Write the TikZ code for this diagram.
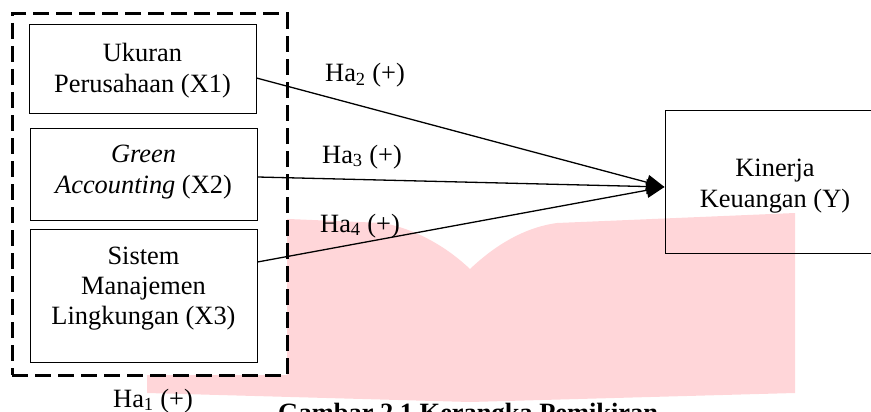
\documentclass[tikz,border=0pt]{standalone}
\usepackage{fontspec}
\setmainfont{Liberation Serif}
\usetikzlibrary{arrows.meta}
\definecolor{wmpink}{RGB}{255,214,217}
\begin{document}
\begin{tikzpicture}[x=1pt,y=-1pt,
  box/.style={draw=black, line width=1pt, inner sep=0pt},
  grpbox/.style={draw=black, fill=white, line width=3pt, dash pattern=on 16pt off 7pt, inner sep=0pt},
  txt/.style={font=\fontsize{26.4}{31}\selectfont, align=center, inner sep=0pt},
  lbl/.style={font=\fontsize{26.4}{31}\selectfont, inner sep=0pt, anchor=base west},
  link/.style={line width=1.3pt, -{Triangle[length=18pt,width=15pt]}},
]
\useasboundingbox (0,0) rectangle (871,412);
\clip (0,0) rectangle (871,412);
% watermark
\fill[wmpink] (147,213) -- (383,223) .. controls (420,230) and (450,250) .. (470,269)
  .. controls (490,250) and (520,228) .. (557,223) -- (795,213) -- (795,393)
  -- (470,402) -- (147,393) -- cycle;
% group
\node[grpbox, minimum width=275pt, minimum height=361pt] (grp) at (149.5,194.5) {};
% boxes
\node[box, minimum width=227pt, minimum height=89pt] (x1) at (142.5,69.5) {};
\node[box, minimum width=227pt, minimum height=92pt] (x2) at (143.5,174) {};
\node[box, minimum width=227pt, minimum height=133pt] (x3) at (143.5,295.5) {};
\node[box, minimum width=220pt, minimum height=142pt] (y) at (775,182) {};
% texts
\node[txt] (t1) at (142.5,71) {Ukuran\\Perusahaan (X1)};
\node[txt] (t2) at (143.5,172.5) {\textit{Green}\\\textit{Accounting} (X2)};
\node[txt, font=\fontsize{26.4}{30}\selectfont] (t3) at (143.5,289) {Sistem\\Manajemen\\Lingkungan (X3)};
\node[txt] (ty) at (775,186.5) {Kinerja\\Keuangan (Y)};
% connectors
\draw[link] ([yshift=-8.5pt]x1.east) -- ([yshift=-5pt]y.west);
\draw[link] ([yshift=-3pt]x2.east) -- ([yshift=-5pt]y.west);
\draw[link] ([yshift=33.5pt]x3.east) -- ([yshift=-5pt]y.west);
% labels
\node[lbl] (h2) at (325,82) {Ha\textsubscript{2} (+)};
\node[lbl] (h3) at (322,163) {Ha\textsubscript{3} (+)};
\node[lbl] (h4) at (320,232) {Ha\textsubscript{4} (+)};
\node[lbl] (h1) at (113,407) {Ha\textsubscript{1} (+)};
\node[lbl, font=\bfseries\fontsize{26.4}{31}\selectfont] (cap) at (278,421) {Gambar 2.1 Kerangka Pemikiran};
\end{tikzpicture}
\end{document}
